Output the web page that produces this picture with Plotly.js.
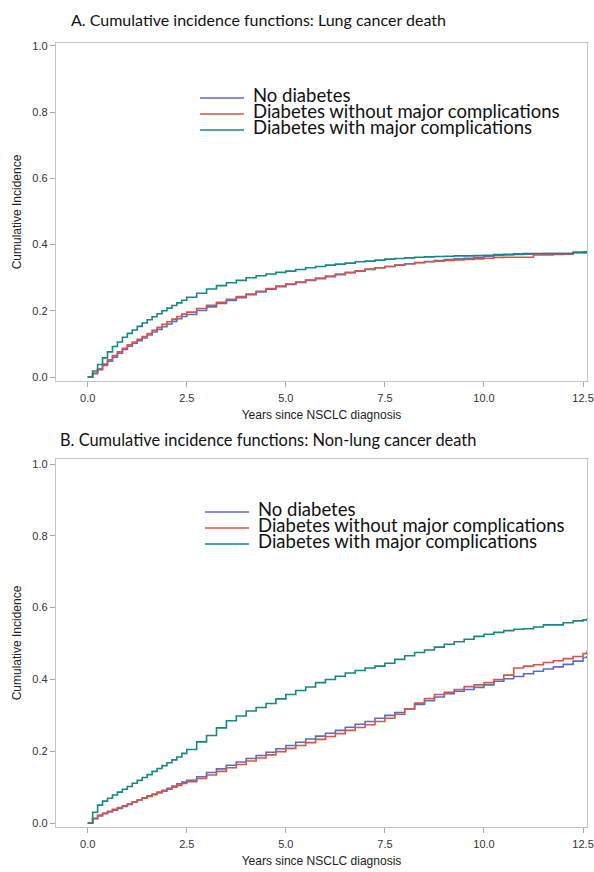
<!DOCTYPE html>
<html><head><meta charset="utf-8">
<script src="https://cdn.plot.ly/plotly-3.0.1.min.js"></script>
<style>html,body{margin:0;padding:0;background:#fff}#chart{width:594px;height:872px}</style>
</head><body><div id="chart"></div>
<script>
// ---------- data ----------
const seriesNames = ["No diabetes", "Diabetes without major complications", "Diabetes with major complications"];
const panelTitles = ["A. Cumulative incidence functions: Lung cancer death", "B. Cumulative incidence functions: Non-lung cancer death"];
const xAxisTitle = "Years since NSCLC diagnosis";
const yAxisTitle = "Cumulative Incidence";
const xTickValues = [0, 2.5, 5, 7.5, 10, 12.5];
const xTickLabels = ["0.0", "2.5", "5.0", "7.5", "10.0", "12.5"];
const yTickValues = [0, 0.2, 0.4, 0.6, 0.8, 1.0];
const yTickLabels = ["0.0", "0.2", "0.4", "0.6", "0.8", "1.0"];

const years = [0, 0.125, 0.25, 0.375, 0.5, 0.625, 0.75, 0.875, 1, 1.125, 1.25, 1.375, 1.5, 1.625, 1.75, 1.875, 2, 2.125, 2.25, 2.375, 2.5,
  2.75, 3, 3.25, 3.5, 3.75, 4, 4.25, 4.5, 4.75,
  5, 5.25, 5.5, 5.75, 6, 6.25, 6.5, 6.75, 7, 7.25, 7.5, 7.75, 8, 8.25, 8.5, 8.75, 9, 9.25, 9.5, 9.75,
  10, 10.25, 10.5, 10.75, 11, 11.25, 11.5, 11.75, 12, 12.25, 12.5, 12.6];

// Panel A: lung cancer death
const lungNoDiabetes = [0, 0.010, 0.022, 0.035, 0.048, 0.060, 0.072, 0.083, 0.093, 0.102, 0.110, 0.118, 0.127, 0.136, 0.144, 0.152, 0.160, 0.168, 0.176, 0.183, 0.189,
  0.201, 0.212, 0.222, 0.231, 0.240, 0.249, 0.257, 0.265, 0.273,
  0.280, 0.286, 0.292, 0.297, 0.303, 0.309, 0.315, 0.320, 0.325, 0.330, 0.334, 0.338, 0.342, 0.346, 0.349, 0.352, 0.355, 0.357, 0.359, 0.362,
  0.365, 0.367, 0.369, 0.370, 0.371, 0.372, 0.373, 0.373, 0.373, 0.377, 0.378, 0.378];
const lungDiabNoComp = [0, 0.012, 0.025, 0.039, 0.052, 0.065, 0.076, 0.087, 0.097, 0.106, 0.114, 0.122, 0.131, 0.141, 0.150, 0.159, 0.167, 0.175, 0.183, 0.190, 0.196,
  0.207, 0.217, 0.226, 0.235, 0.243, 0.251, 0.259, 0.267, 0.275,
  0.281, 0.287, 0.293, 0.299, 0.305, 0.311, 0.316, 0.321, 0.326, 0.330, 0.334, 0.338, 0.342, 0.345, 0.348, 0.350, 0.352, 0.354, 0.355, 0.357,
  0.359, 0.361, 0.362, 0.362, 0.362, 0.369, 0.369, 0.370, 0.371, 0.375, 0.375, 0.375];
const lungDiabComp = [0, 0.018, 0.038, 0.058, 0.076, 0.092, 0.106, 0.120, 0.132, 0.142, 0.153, 0.163, 0.173, 0.182, 0.191, 0.200, 0.208, 0.216, 0.224, 0.232, 0.241,
  0.253, 0.266, 0.276, 0.285, 0.292, 0.300, 0.306, 0.311, 0.316,
  0.320, 0.325, 0.330, 0.334, 0.338, 0.341, 0.344, 0.348, 0.350, 0.353, 0.356, 0.358, 0.360, 0.362, 0.363, 0.364, 0.365, 0.366, 0.366, 0.367,
  0.368, 0.370, 0.371, 0.372, 0.373, 0.373, 0.373, 0.373, 0.373, 0.377, 0.377, 0.377];

// Panel B: non-lung cancer death
const otherNoDiabetes = [0, 0.012, 0.020, 0.026, 0.031, 0.036, 0.041, 0.046, 0.052, 0.058, 0.064, 0.070, 0.076, 0.081, 0.086, 0.091, 0.097, 0.103, 0.109, 0.114, 0.119,
  0.129, 0.141, 0.151, 0.161, 0.170, 0.180, 0.188, 0.197, 0.207,
  0.216, 0.225, 0.234, 0.242, 0.250, 0.258, 0.267, 0.275, 0.283, 0.292, 0.300, 0.308, 0.318, 0.330, 0.341, 0.351, 0.360, 0.367, 0.372, 0.378,
  0.385, 0.395, 0.402, 0.408, 0.416, 0.423, 0.429, 0.435, 0.442, 0.451, 0.461, 0.465];
const otherDiabNoComp = [0, 0.013, 0.022, 0.028, 0.033, 0.038, 0.043, 0.048, 0.053, 0.059, 0.064, 0.069, 0.074, 0.079, 0.084, 0.089, 0.094, 0.100, 0.105, 0.110, 0.115,
  0.124, 0.134, 0.144, 0.154, 0.163, 0.173, 0.181, 0.190, 0.199,
  0.208, 0.216, 0.224, 0.233, 0.241, 0.249, 0.258, 0.266, 0.274, 0.283, 0.292, 0.303, 0.318, 0.334, 0.347, 0.358, 0.364, 0.372, 0.380, 0.385,
  0.391, 0.400, 0.412, 0.432, 0.437, 0.441, 0.447, 0.452, 0.458, 0.464, 0.472, 0.480];
const otherDiabComp = [0, 0.030, 0.050, 0.061, 0.069, 0.078, 0.086, 0.094, 0.102, 0.111, 0.119, 0.127, 0.135, 0.144, 0.152, 0.160, 0.168, 0.176, 0.184, 0.194, 0.205,
  0.226, 0.244, 0.265, 0.285, 0.298, 0.312, 0.322, 0.333, 0.346,
  0.358, 0.369, 0.379, 0.391, 0.400, 0.409, 0.418, 0.425, 0.432, 0.437, 0.445, 0.456, 0.466, 0.475, 0.482, 0.490, 0.498, 0.505, 0.512, 0.520,
  0.526, 0.531, 0.536, 0.540, 0.541, 0.546, 0.552, 0.552, 0.558, 0.563, 0.566, 0.570];

// ---------- styles ----------
const colors = ["#5b6cc4", "#d2574b", "#168783"];
const W = 594, H = 872;
const px = v => v / W, py = v => 1 - v / H;
const titleFont = {family: "Lato, 'Open Sans', sans-serif", size: 16, color: "#111"};
const legendFont = {family: "Lato, 'Open Sans', sans-serif", size: 18.5, color: "#111"};
const tickFont = {family: "Arial, 'Liberation Sans', sans-serif", size: 11, color: "#333"};
const axTitleFont = {family: "Arial, 'Liberation Sans', sans-serif", size: 12, color: "#222"};

const panelA = [lungNoDiabetes, lungDiabNoComp, lungDiabComp];
const panelB = [otherNoDiabetes, otherDiabNoComp, otherDiabComp];
const traces = [];
[panelA, panelB].forEach((panel, p) => {
  panel.forEach((vals, i) => {
    traces.push({
      type: "scatter", mode: "lines", x: years, y: vals, name: seriesNames[i],
      xaxis: p === 0 ? "x" : "x2", yaxis: p === 0 ? "y" : "y2",
      line: {color: colors[i], width: 1.6, shape: "hv"}, showlegend: false, hoverinfo: "x+y+name"
    });
  });
});

function xAx(anchor) {
  return {
    domain: [px(56), px(587)], range: [-0.8, 12.6], anchor: anchor,
    tickvals: xTickValues, ticktext: xTickLabels, tickfont: tickFont, ticklabelstandoff: 2,
    showline: true, mirror: true, linecolor: "#c4c4c4", linewidth: 1.2,
    ticks: "outside", ticklen: 5, tickcolor: "#aaa", showgrid: false, zeroline: false,
    title: {text: xAxisTitle, font: axTitleFont, standoff: 7}
  };
}
function yAx(dom, rng, anchor) {
  return {
    domain: dom, range: rng, anchor: anchor,
    tickvals: yTickValues, ticktext: yTickLabels, tickfont: tickFont,
    showline: true, mirror: true, linecolor: "#c4c4c4", linewidth: 1.2,
    ticks: "outside", ticklen: 5, tickcolor: "#aaa", showgrid: false, zeroline: false,
    title: {text: yAxisTitle, font: axTitleFont, standoff: 8}
  };
}

const annotations = [];
const shapes = [];
annotations.push({xref: "paper", yref: "paper", x: px(258), y: py(19), text: panelTitles[0], showarrow: false,
  xanchor: "center", yanchor: "middle", font: titleFont});
annotations.push({xref: "paper", yref: "paper", x: px(268), y: py(439), text: panelTitles[1], showarrow: false,
  xanchor: "center", yanchor: "middle", font: {...titleFont, size: 16.4}});

const legendRowsA = [95, 111, 127];
const legendRowsB = [509, 525, 541];
[[legendRowsA, 200, 252], [legendRowsB, 205, 257]].forEach(([rows, lx, tx]) => {
  rows.forEach((ry, i) => {
    shapes.push({type: "line", xref: "paper", yref: "paper", x0: px(lx), x1: px(lx + 44), y0: py(ry + 3), y1: py(ry + 3),
      line: {color: colors[i], width: 1.6}});
    annotations.push({xref: "paper", yref: "paper", x: px(tx), y: py(ry), text: seriesNames[i], showarrow: false,
      xanchor: "left", yanchor: "middle", font: legendFont, borderpad: 0});
  });
});

const layout = {
  width: W, height: H, margin: {l: 0, r: 0, t: 0, b: 0},
  paper_bgcolor: "#fff", plot_bgcolor: "#fff", showlegend: false,
  xaxis: xAx("y"),
  yaxis: yAx([py(381), py(43)], [-0.012, 1.009], "x"),
  xaxis2: xAx("y2"),
  yaxis2: yAx([py(827), py(459)], [-0.011, 1.014], "x2"),
  annotations: annotations, shapes: shapes
};
Plotly.newPlot("chart", traces, layout, {displayModeBar: false, staticPlot: true});
</script>
</body></html>
